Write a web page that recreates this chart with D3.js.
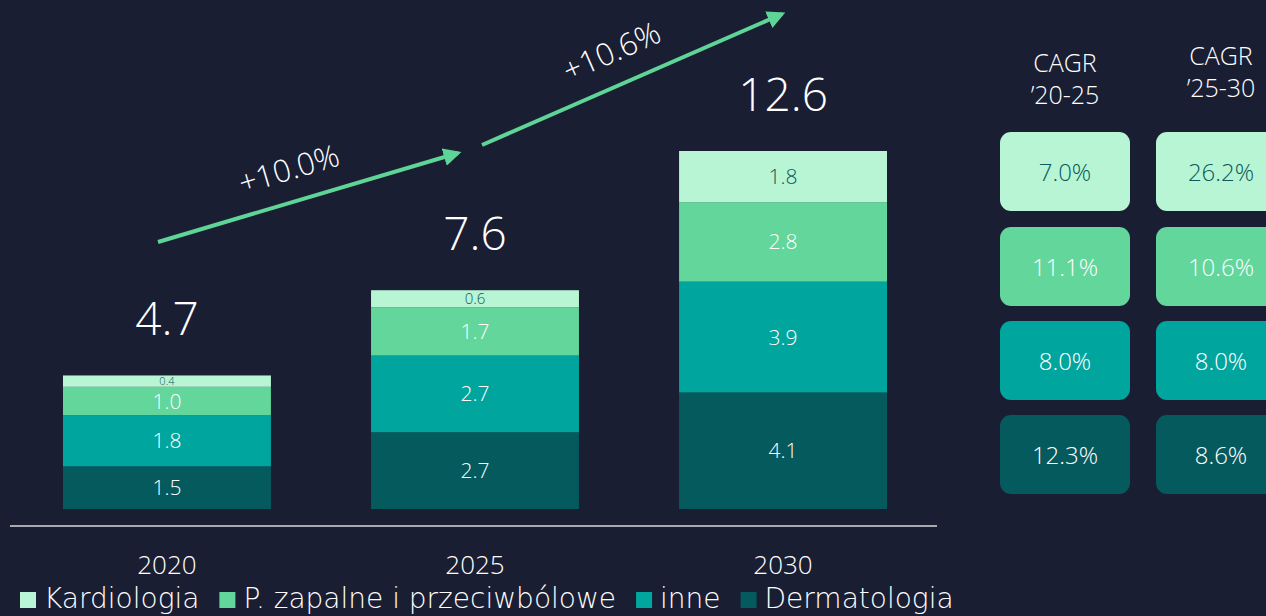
<!DOCTYPE html>
<html>
<head>
<meta charset="utf-8">
<script src="https://cdn.jsdelivr.net/npm/d3@7"></script>
<style>
  html, body { margin: 0; padding: 0; background: #1a1e33; }
  svg { display: block; font-family: "Open Sans", Lato, sans-serif; font-weight: 300; }
</style>
</head>
<body>
<svg id="chart"></svg>
<script>
// data
const years = ["2020", "2025", "2030"];
const series = ["Dermatologia", "inne", "P. zapalne i przeciwbólowe", "Kardiologia"];
const dermatologia = [1.5, 2.7, 4.1];
const inne = [1.8, 2.7, 3.9];
const zapalne = [1.0, 1.7, 2.8];
const kardiologia = [0.4, 0.6, 1.8];
const totals = [4.7, 7.6, 12.6];
const growth = ["+10.0%", "+10.6%"];
const cagrHeaders = [["CAGR", "’20-25"], ["CAGR", "’25-30"]];
// CAGR rows, top to bottom: Kardiologia, P. zapalne, inne, Dermatologia
const cagr2025 = ["7.0%", "11.1%", "8.0%", "12.3%"];
const cagr2530 = ["26.2%", "10.6%", "8.0%", "8.6%"];
const legendOrder = ["Kardiologia", "P. zapalne i przeciwbólowe", "inne", "Dermatologia"];

const W = 1266, H = 616;
const colors = {
  "Kardiologia": "#b8f5d4",
  "P. zapalne i przeciwbólowe": "#62d69b",
  "inne": "#00a59e",
  "Dermatologia": "#055a5e"
};
const textCol = { "Kardiologia": "#0b5a5c" };

const svg = d3.select("#chart").attr("width", W).attr("height", H);

const table = years.map((y, i) => ({
  year: y,
  "Dermatologia": dermatologia[i],
  "inne": inne[i],
  "P. zapalne i przeciwbólowe": zapalne[i],
  "Kardiologia": kardiologia[i]
}));

const x = d3.scaleBand().domain(years).range([63, 887]).paddingInner(0.325).paddingOuter(0);
const y = d3.scaleLinear().domain([0, 12.6]).range([509, 151]);

const stacked = d3.stack().keys(series)(table);

const layers = svg.append("g").selectAll("g")
  .data(stacked).join("g")
  .attr("fill", d => colors[d.key]);

layers.selectAll("rect")
  .data(d => d.map(p => Object.assign(p, { key: d.key })))
  .join("rect")
  .attr("x", d => x(d.data.year))
  .attr("width", x.bandwidth())
  .attr("y", d => y(d[1]))
  .attr("height", d => y(d[0]) - y(d[1]));

layers.selectAll("text")
  .data(d => d)
  .join("text")
  .attr("x", d => x(d.data.year) + x.bandwidth() / 2)
  .attr("y", d => (y(d[0]) + y(d[1])) / 2)
  .attr("dy", "0.36em")
  .attr("text-anchor", "middle")
  .attr("fill", d => textCol[d.key] || "#ffffff")
  .style("font-size", d => {
    const h = y(d[0]) - y(d[1]);
    return h < 14 ? "11px" : h < 20 ? "15px" : "21px";
  })
  .text(d => d3.format(".1f")(d[1] - d[0]));

// totals
svg.append("g").selectAll("text")
  .data(totals).join("text")
  .attr("x", (d, i) => x(years[i]) + x.bandwidth() / 2)
  .attr("y", (d, i) => y(d3.sum(series, k => table[i][k])) - 40)
  .attr("text-anchor", "middle")
  .attr("fill", "#ffffff")
  .style("font-size", "46px")
  .text(d => d3.format(".1f")(d));

// axis line
svg.append("line")
  .attr("x1", 10).attr("x2", 937).attr("y1", 526).attr("y2", 526)
  .attr("stroke", "#d9d9d9").attr("stroke-width", 1.5);

svg.append("g").selectAll("text")
  .data(years).join("text")
  .attr("x", d => x(d) + x.bandwidth() / 2)
  .attr("y", 574)
  .attr("text-anchor", "middle")
  .attr("fill", "#ffffff")
  .style("font-size", "26px")
  .text(d => d);

// growth arrows
svg.append("defs").append("marker")
  .attr("id", "head").attr("viewBox", "0 0 10 10")
  .attr("refX", 8).attr("refY", 5)
  .attr("markerWidth", 4.5).attr("markerHeight", 4.5)
  .attr("orient", "auto")
  .append("path").attr("d", "M0,0L10,5L0,10Z").attr("fill", "#5ed497");

const arrows = [
  { x1: 158, y1: 242, x2: 458, y2: 153 },
  { x1: 482, y1: 145, x2: 782, y2: 14 }
];
arrows.forEach((a, i) => {
  svg.append("line")
    .attr("x1", a.x1).attr("y1", a.y1).attr("x2", a.x2).attr("y2", a.y2)
    .attr("stroke", "#5ed497").attr("stroke-width", 4)
    .attr("marker-end", "url(#head)");
  const ang = Math.atan2(a.y2 - a.y1, a.x2 - a.x1) * 180 / Math.PI;
  const mx = (a.x1 + a.x2) / 2, my = (a.y1 + a.y2) / 2;
  svg.append("text")
    .attr("transform", `translate(${mx - 16},${my - 18}) rotate(${ang})`)
    .attr("text-anchor", "middle")
    .attr("fill", "#ffffff")
    .style("font-size", "31px")
    .text(growth[i]);
});

// CAGR tables
const cols = [
  { cx: 1065, data: cagr2025, headY: 72 },
  { cx: 1221, data: cagr2530, headY: 65 }
];
const rowY = [132, 227, 321, 415];
cols.forEach((c, ci) => {
  const g = svg.append("g");
  g.selectAll("text.head")
    .data(cagrHeaders[ci]).join("text")
    .attr("class", "head")
    .attr("x", c.cx).attr("y", (d, k) => c.headY + k * 32)
    .attr("text-anchor", "middle").attr("fill", "#ffffff")
    .style("font-size", "25px")
    .text(d => d);
  g.selectAll("rect")
    .data(c.data).join("rect")
    .attr("x", c.cx - 65).attr("y", (d, i) => rowY[i])
    .attr("width", 130).attr("height", 79).attr("rx", 11)
    .attr("fill", (d, i) => colors[legendOrder[i]]);
  g.selectAll("text.val")
    .data(c.data).join("text")
    .attr("class", "val")
    .attr("x", c.cx).attr("y", (d, i) => rowY[i] + 40)
    .attr("dy", "0.36em")
    .attr("text-anchor", "middle")
    .attr("fill", (d, i) => textCol[legendOrder[i]] || "#ffffff")
    .style("font-size", "24px")
    .text(d => d);
});

// legend
const leg = svg.append("g").attr("transform", "translate(20,598)");
let lx = 0;
legendOrder.forEach(k => {
  leg.append("rect").attr("x", lx).attr("y", -6).attr("width", 16).attr("height", 16)
    .attr("fill", colors[k]);
  const t = leg.append("text").attr("x", lx + 24).attr("y", 0).attr("dy", "0.36em")
    .attr("fill", "#ffffff")
    .style("font-family", "'DejaVu Sans', sans-serif").style("font-weight", 200)
    .style("font-size", "28px").text(k);
  lx += 24 + t.node().getComputedTextLength() + 20;
});
</script>
</body>
</html>
